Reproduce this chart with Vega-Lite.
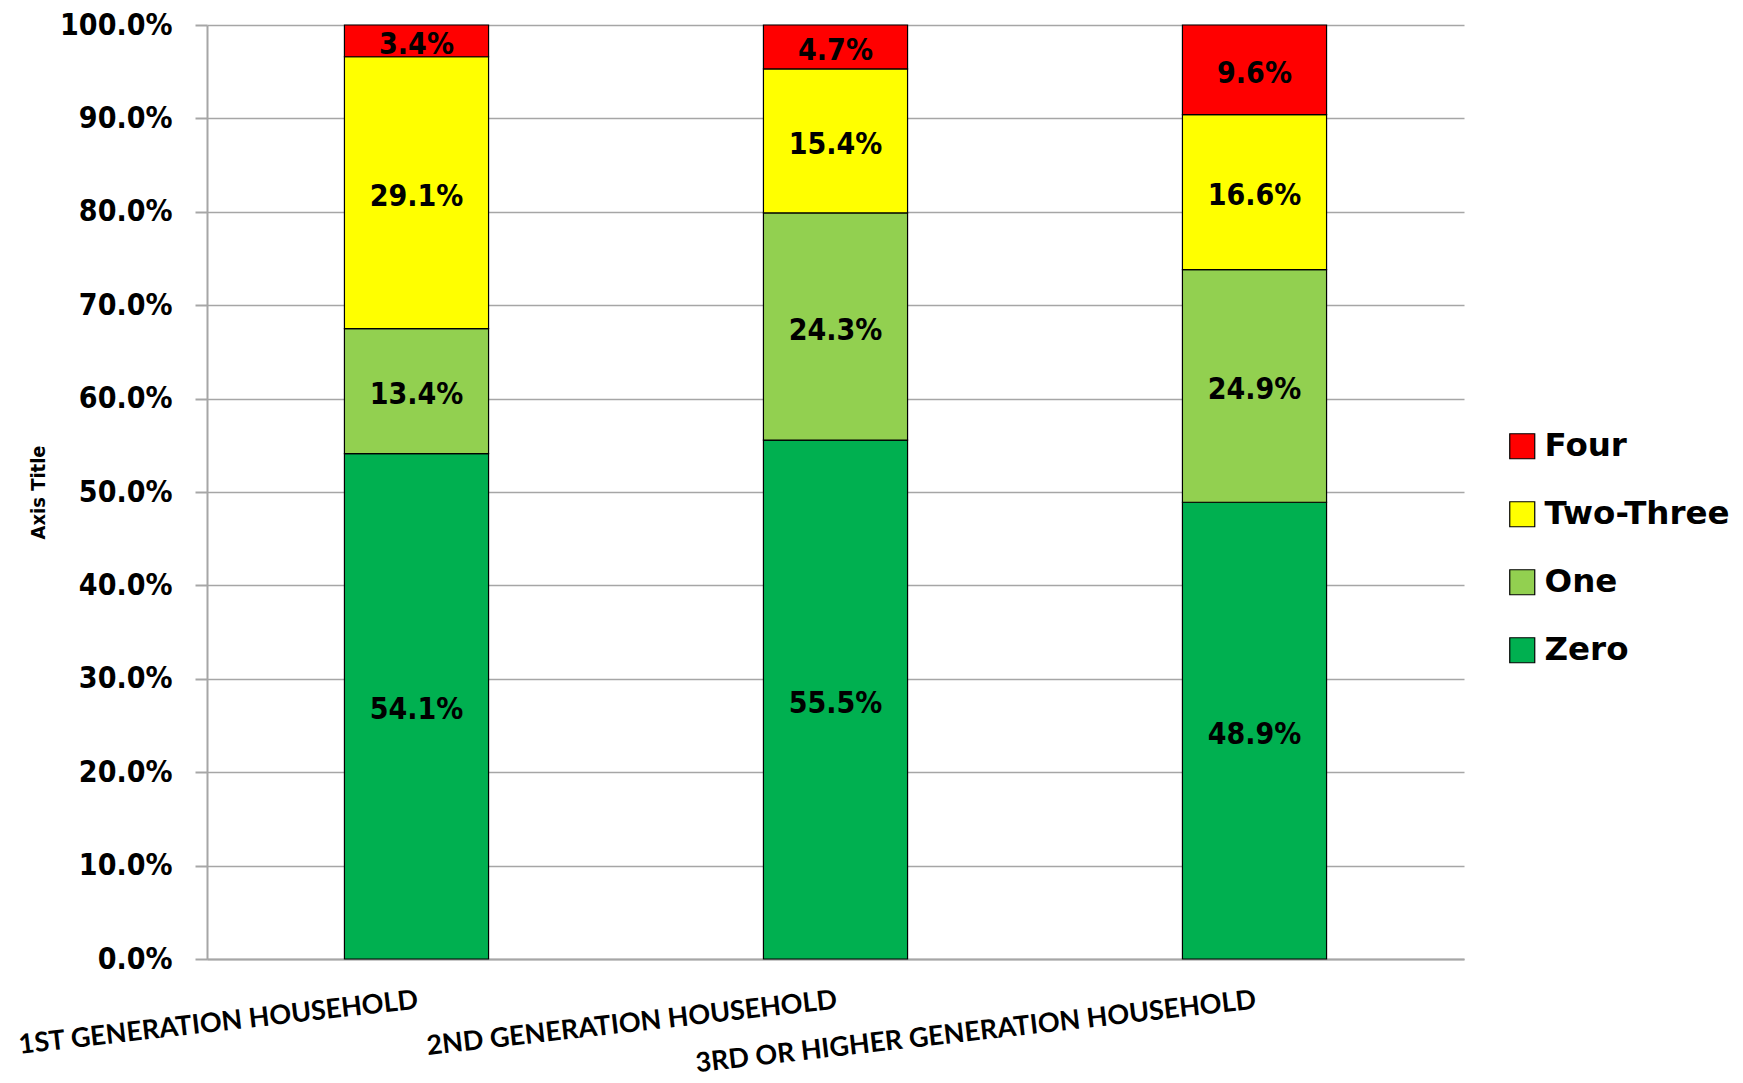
{
  "$schema": "https://vega.github.io/schema/vega-lite/v6.json",
  "autosize": "none",
  "width": 1257,
  "height": 934,
  "padding": {"left": 207, "top": 25, "right": 279, "bottom": 124},
  "background": "white",
  "data": {
    "values": [
      {"group": "1ST GENERATION HOUSEHOLD", "count": "Zero", "rank": 1, "share": 0.541},
      {"group": "1ST GENERATION HOUSEHOLD", "count": "One", "rank": 2, "share": 0.134},
      {"group": "1ST GENERATION HOUSEHOLD", "count": "Two-Three", "rank": 3, "share": 0.291},
      {"group": "1ST GENERATION HOUSEHOLD", "count": "Four", "rank": 4, "share": 0.034},
      {"group": "2ND GENERATION HOUSEHOLD", "count": "Zero", "rank": 1, "share": 0.555},
      {"group": "2ND GENERATION HOUSEHOLD", "count": "One", "rank": 2, "share": 0.243},
      {"group": "2ND GENERATION HOUSEHOLD", "count": "Two-Three", "rank": 3, "share": 0.154},
      {"group": "2ND GENERATION HOUSEHOLD", "count": "Four", "rank": 4, "share": 0.047},
      {"group": "3RD OR HIGHER GENERATION HOUSEHOLD", "count": "Zero", "rank": 1, "share": 0.489},
      {"group": "3RD OR HIGHER GENERATION HOUSEHOLD", "count": "One", "rank": 2, "share": 0.249},
      {"group": "3RD OR HIGHER GENERATION HOUSEHOLD", "count": "Two-Three", "rank": 3, "share": 0.166},
      {"group": "3RD OR HIGHER GENERATION HOUSEHOLD", "count": "Four", "rank": 4, "share": 0.096}
    ]
  },
  "encoding": {
    "x": {
      "field": "group", "type": "nominal", "sort": null,
      "scale": {"paddingInner": 0.656, "paddingOuter": 0.328},
      "axis": {
        "title": null, "labelAngle": -6.5, "labelAlign": "right", "labelBaseline": "top",
        "labelPadding": 28, "ticks": false, "domainColor": "#a6a6a6", "domainWidth": 2,
        "labelFont": "Lato", "labelFontWeight": "bold", "labelFontSize": 27,
        "labelColor": "black", "labelLimit": 0
      }
    },
    "y": {
      "field": "share", "type": "quantitative", "stack": "normalize",
      "scale": {"domain": [0, 1]},
      "axis": {
        "title": "Axis Title", "labelExpr": "format(datum.value, '.1%')", "values": [0, 0.1, 0.2, 0.3, 0.4, 0.5, 0.6, 0.7, 0.8, 0.9, 1.0],
        "tickSize": 12, "tickColor": "#a6a6a6", "tickWidth": 2, "gridColor": "#a6a6a6", "gridWidth": 1.5,
        "domainColor": "#a6a6a6", "domainWidth": 2,
        "labelPadding": 23, "labelFont": "DejaVu Sans Condensed", "labelFontWeight": "bold", "labelFontSize": 30, "labelColor": "black",
        "titleFont": "DejaVu Sans Condensed", "titleFontWeight": "bold", "titleFontSize": 20, "titleColor": "black",
        "titleX": -169, "titleY": 467, "titleAngle": -90, "titleAlign": "center", "titleBaseline": "middle"
      }
    },
    "order": {"field": "rank", "type": "quantitative", "sort": "ascending"}
  },
  "layer": [
    {
      "mark": {"type": "bar", "stroke": "black", "strokeWidth": 1.2},
      "encoding": {
        "color": {
          "field": "count", "type": "nominal",
          "scale": {"domain": ["Four", "Two-Three", "One", "Zero"], "range": ["#FF0000", "#FFFF00", "#92D050", "#00B050"]},
          "legend": {
            "title": null, "orient": "none", "legendX": 1299, "legendY": 405,
            "symbolType": "square", "symbolSize": 625, "symbolStrokeColor": "black", "symbolStrokeWidth": 1.2,
            "labelFont": "DejaVu Sans", "labelFontWeight": "bold", "labelFontSize": 32.5, "labelColor": "black",
            "labelLimit": 0, "rowPadding": 35, "labelOffset": 6
          }
        }
      }
    },
    {
      "mark": {"type": "text", "font": "DejaVu Sans Condensed", "fontWeight": "bold", "fontSize": 30, "color": "black", "baseline": "middle", "dy": 4},
      "encoding": {
        "y": {"field": "share", "type": "quantitative", "stack": "normalize", "bandPosition": 0.5},
        "text": {"field": "share", "type": "quantitative", "format": ".1%"}
      }
    }
  ],
  "config": {"view": {"stroke": null}, "axis": {"gridCap": "butt"}}
}
